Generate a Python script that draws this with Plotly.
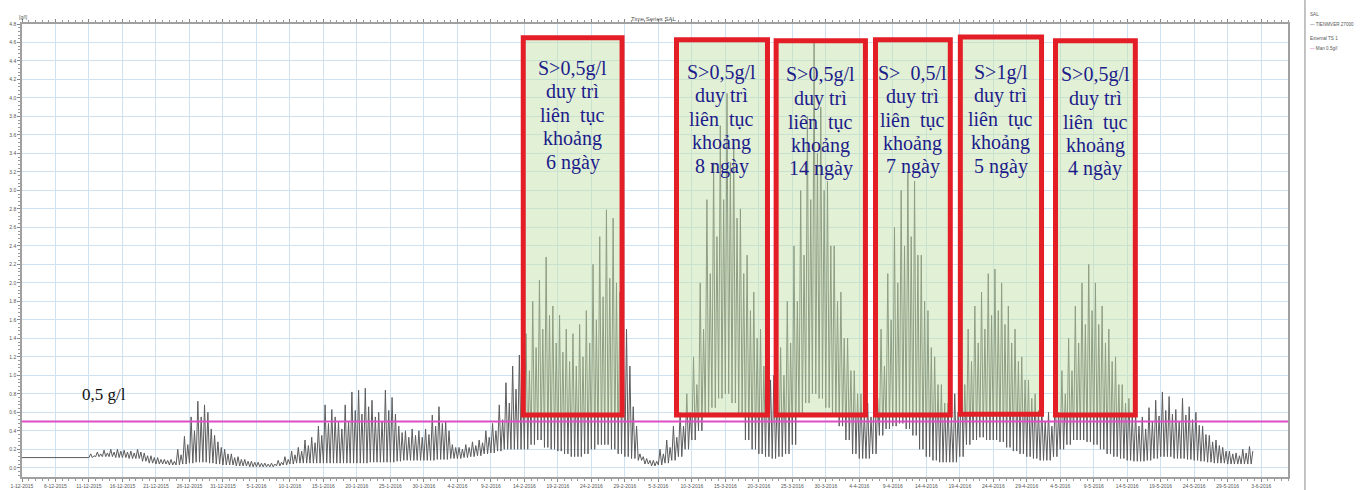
import pandas as pd
import plotly.graph_objects as go

# ---------------- data ----------------
start_date = "2015-12-01"
# main (higher) high-tide salinity per day (g/l), from 1-12-2015
daily_high = [
    0.11, 0.11, 0.11, 0.11, 0.11, 0.11, 0.11, 0.11, 0.11, 0.11,
    0.15, 0.17, 0.19, 0.20, 0.20, 0.19, 0.18, 0.20,
    0.16, 0.13, 0.11, 0.09, 0.09,
    0.20, 0.34, 0.55, 0.72, 0.68, 0.42, 0.28, 0.20,
    0.15, 0.12, 0.09, 0.07, 0.06, 0.05, 0.05,
    0.08, 0.12, 0.18, 0.22, 0.30, 0.33,
    0.45, 0.68, 0.63, 0.50, 0.68, 0.82, 0.84, 0.86, 0.73, 0.60, 0.84, 0.76,
    0.45, 0.40, 0.42, 0.40, 0.42, 0.57, 0.66, 0.50,
    0.25, 0.22, 0.25, 0.28, 0.30, 0.40, 0.48, 0.68, 0.92, 1.10, 1.22,
    1.45, 1.80, 2.03, 2.28, 1.75, 1.65, 1.50, 1.45, 1.55, 1.70, 2.20, 2.50, 2.79, 2.70, 1.90, 1.50, 0.66,
    0.15, 0.10, 0.08, 0.20, 0.30, 0.45, 0.60,
    0.80, 1.20, 2.00, 2.90, 3.30, 3.70, 4.05, 3.50, 2.80, 2.30, 1.90, 1.50, 1.20,
    1.00, 1.30, 1.80, 2.40, 3.00, 3.80, 4.60, 3.90, 3.10, 2.40, 1.90, 1.40, 1.05, 0.80,
    0.70, 1.00, 1.50, 2.10, 2.60, 3.00, 3.20, 3.10, 2.30, 1.70, 1.20, 0.90, 0.70,
    0.80, 1.20, 1.50, 1.75, 1.90, 2.10, 2.15, 2.00, 1.75, 1.50, 1.20, 0.95, 0.80, 0.65,
    0.60, 0.80, 1.05, 1.40, 1.75, 2.00, 2.20, 2.00, 1.75, 1.50, 1.20, 0.90, 0.75,
    0.60, 0.55, 0.65, 0.73, 0.82, 0.77, 0.63, 0.75, 0.66, 0.60, 0.45, 0.35, 0.30, 0.22, 0.18, 0.16, 0.20, 0.23,
]
# secondary (lower) high-tide salinity per day (g/l)
daily_high2 = [
    0.11, 0.11, 0.11, 0.11, 0.11, 0.11, 0.11, 0.11, 0.11, 0.11,
    0.13, 0.15, 0.16, 0.17, 0.18, 0.17, 0.16, 0.17,
    0.13, 0.11, 0.09, 0.08, 0.07,
    0.14, 0.25, 0.40, 0.55, 0.60, 0.35, 0.22, 0.15,
    0.11, 0.09, 0.07, 0.06, 0.05, 0.04, 0.04,
    0.06, 0.09, 0.14, 0.18, 0.24, 0.27,
    0.35, 0.48, 0.55, 0.42, 0.50, 0.62, 0.58, 0.66, 0.55, 0.50, 0.62, 0.58,
    0.38, 0.33, 0.35, 0.33, 0.36, 0.45, 0.48, 0.40,
    0.22, 0.20, 0.22, 0.24, 0.27, 0.33, 0.40, 0.52, 0.70, 0.85, 0.95,
    1.05, 1.30, 1.50, 1.65, 1.35, 1.25, 1.15, 1.10, 1.20, 1.35, 1.60, 1.85, 2.05, 2.00, 1.40, 1.10, 0.45,
    0.12, 0.08, 0.07, 0.15, 0.22, 0.33, 0.45,
    0.60, 0.90, 1.50, 2.10, 2.50, 2.90, 3.30, 2.70, 2.10, 1.70, 1.40, 1.10, 0.95,
    0.80, 1.00, 1.35, 1.80, 2.30, 2.90, 3.40, 3.00, 2.40, 1.80, 1.40, 1.05, 0.80, 0.60,
    0.55, 0.75, 1.10, 1.60, 2.00, 2.40, 2.50, 2.30, 1.80, 1.30, 0.90, 0.70, 0.55,
    0.60, 0.90, 1.15, 1.35, 1.50, 1.65, 1.70, 1.55, 1.35, 1.15, 0.95, 0.75, 0.62, 0.50,
    0.45, 0.60, 0.80, 1.05, 1.35, 1.55, 1.70, 1.55, 1.35, 1.15, 0.90, 0.70, 0.58,
    0.45, 0.42, 0.50, 0.56, 0.62, 0.58, 0.50, 0.57, 0.52, 0.46, 0.36, 0.28, 0.24, 0.18, 0.15, 0.13, 0.16, 0.18,
]
# low-tide salinity per day (g/l)
daily_low = [
    0.11, 0.11, 0.11, 0.11, 0.11, 0.11, 0.11, 0.11, 0.11, 0.11,
    0.11, 0.12, 0.12, 0.12, 0.11, 0.11, 0.10, 0.10,
    0.07, 0.05, 0.04, 0.04, 0.03,
    0.03, 0.04, 0.05, 0.06, 0.06, 0.05, 0.04, 0.03,
    0.03, 0.02, 0.02, 0.01, 0.01, 0.01, 0.01,
    0.02, 0.03, 0.04, 0.05, 0.05, 0.05,
    0.05, 0.05, 0.05, 0.05, 0.05, 0.05, 0.05, 0.05, 0.06, 0.06, 0.06, 0.06,
    0.07, 0.08, 0.08, 0.08, 0.08, 0.08, 0.09, 0.09,
    0.10, 0.10, 0.11, 0.12, 0.13, 0.15, 0.16, 0.18, 0.20, 0.20, 0.20,
    0.20, 0.25, 0.30, 0.22, 0.20, 0.18, 0.15, 0.12, 0.12, 0.15, 0.20, 0.25, 0.25, 0.20, 0.15, 0.12, 0.10,
    0.08, 0.04, 0.02, 0.03, 0.05, 0.08, 0.12,
    0.20, 0.30, 0.40, 0.55, 0.65, 0.75, 0.80, 0.70, 0.55, 0.30, 0.20, 0.15, 0.12,
    0.10, 0.12, 0.15, 0.25, 0.55, 0.70, 0.80, 0.75, 0.65, 0.55, 0.45, 0.30, 0.15, 0.10,
    0.10, 0.15, 0.35, 0.42, 0.45, 0.48, 0.42, 0.35, 0.20, 0.12, 0.08, 0.06, 0.06,
    0.06, 0.12, 0.25, 0.30, 0.33, 0.30, 0.30, 0.28, 0.22, 0.18, 0.15, 0.12, 0.10, 0.08,
    0.08, 0.12, 0.20, 0.25, 0.30, 0.30, 0.28, 0.25, 0.20, 0.15, 0.12, 0.10, 0.08,
    0.07, 0.07, 0.08, 0.10, 0.12, 0.12, 0.10, 0.10, 0.09, 0.08, 0.07, 0.06, 0.05, 0.05, 0.04, 0.04, 0.04, 0.04,
]
threshold = 0.5

box_start = ["2016-02-13 20:00", "2016-03-07 17:00", "2016-03-22 14:00",
             "2016-04-06 10:00", "2016-04-19 02:00", "2016-05-03 07:00"]
box_end = ["2016-02-28 14:00", "2016-03-21 07:00", "2016-04-04 22:00",
           "2016-04-17 14:00", "2016-05-01 05:00", "2016-05-15 05:00"]
box_top = [4.65, 4.63, 4.62, 4.63, 4.66, 4.62]
box_bottom = [0.57, 0.57, 0.57, 0.57, 0.58, 0.57]
box_lines = [
    ["S>0,5g/l", "duy trì", "liên&nbsp; tục", "khoảng", "6 ngày"],
    ["S>0,5g/l", "duy trì", "liên&nbsp; tục", "khoảng", "8 ngày"],
    ["S>0,5g/l", "duy trì", "liên&nbsp; tục", "khoảng", "14 ngày"],
    ["S>&nbsp; 0,5/l", "duy trì", "liên&nbsp; tục", "khoảng", "7 ngày"],
    ["S>1g/l", "duy trì", "liên&nbsp; tục", "khoảng", "5 ngày"],
    ["S>0,5g/l", "duy trì", "liên&nbsp; tục", "khoảng", "4 ngày"],
]
x_range = ["2015-12-01", "2016-06-07"]
y_range = [-0.1, 4.8]

# ---------------- build series ----------------
t0 = pd.Timestamp(start_date)
xs, ys = [], []
for d, (lo, hi, hi2) in enumerate(zip(daily_low, daily_high, daily_high2)):
    xs += [t0 + pd.Timedelta(days=d), t0 + pd.Timedelta(days=d, hours=6),
           t0 + pd.Timedelta(days=d, hours=12), t0 + pd.Timedelta(days=d, hours=18)]
    ys += [lo, hi, lo, hi2]

fig = go.Figure()
fig.add_trace(go.Scatter(x=xs, y=ys, mode="lines",
                         line=dict(color="#5c5c5c", width=1),
                         name="TIENMVER 27000", showlegend=False))
fig.add_trace(go.Scatter(x=x_range, y=[threshold, threshold], mode="lines",
                         line=dict(color="#dc4fc4", width=2),
                         name="Man 0.5g/l", showlegend=False))

# text layout (first line position and line step, in axis units)
first_line_y = [4.32, 4.28, 4.25, 4.27, 4.28, 4.25]
line_step = 0.254
for i in range(len(box_start)):
    fig.add_shape(type="rect", xref="x", yref="y",
                  x0=box_start[i], x1=box_end[i], y0=box_bottom[i], y1=box_top[i],
                  fillcolor="rgba(196,224,171,0.49)", line=dict(width=0), layer="above")
    fig.add_shape(type="rect", xref="x", yref="y",
                  x0=box_start[i], x1=box_end[i], y0=box_bottom[i], y1=box_top[i],
                  line=dict(color="#e41e26", width=5), layer="above")
    mid = pd.Timestamp(box_start[i]) + (pd.Timestamp(box_end[i]) - pd.Timestamp(box_start[i])) / 2
    for k, line in enumerate(box_lines[i]):
        fig.add_annotation(x=mid, y=first_line_y[i] - k * line_step, xref="x", yref="y",
                           text=line, showarrow=False, align="center", yanchor="middle",
                           font=dict(family="Liberation Serif", size=20, color="#1c1c8a"))

fig.add_annotation(x=pd.Timestamp("2015-12-13 07:00"), y=0.79, xref="x", yref="y",
                   text="0,5 g/l", showarrow=False,
                   font=dict(family="Liberation Serif", size=17, color="#111111"))

fig.add_annotation(x=0.4986, y=1.011, xref="paper", yref="paper", text="Time Series SAL",
                   showarrow=False, font=dict(family="Liberation Sans", size=6, color="#555555"),
                   yanchor="middle")
fig.add_annotation(x=-0.004, y=1.016, xref="paper", yref="paper", text="[g/l]",
                   showarrow=False, font=dict(family="Liberation Sans", size=5, color="#555555"),
                   yanchor="middle")
legend_items = [("SAL", 1.020),
                ("<span style='color:#666666'>—</span> TIENMVER 27000", 1.0),
                ("External TS 1", 0.967),
                ("<span style='color:#dc4fc4'>—</span> Man 0.5g/l", 0.947)]
for txt, yy in legend_items:
    fig.add_annotation(x=1.0158, y=yy, xref="paper", yref="paper", text=txt,
                       showarrow=False, xanchor="left", yanchor="middle",
                       font=dict(family="Liberation Sans", size=4.6, color="#555555"))
fig.add_shape(type="line", xref="paper", yref="paper", x0=1.0134, x1=1.0134,
              y0=-0.03, y1=1.06, line=dict(color="#b0b0b0", width=1.5))

fig.update_xaxes(type="date", range=x_range, tick0=start_date, dtick=5 * 86400000,
                 tickformat="%-d-%-m-%Y", tickfont=dict(family="Liberation Sans", size=5, color="#555555"),
                 showgrid=True, gridcolor="#cfe2f2", gridwidth=1, automargin=False,
                 showline=True, linecolor="#a0a0a0", linewidth=1.5, mirror="ticks",
                 ticks="outside", ticklen=3, tickcolor="#888888",
                 minor=dict(dtick=86400000, ticks="outside", ticklen=2, tickcolor="#999999", showgrid=False),
                 zeroline=False)
fig.update_yaxes(range=y_range, tick0=0, dtick=0.2, tickformat=".1f",
                 tickfont=dict(family="Liberation Sans", size=5, color="#555555"),
                 showgrid=True, gridcolor="#cfe2f2", gridwidth=1, automargin=False,
                 showline=True, linecolor="#a0a0a0", linewidth=1.5, mirror=True,
                 ticks="outside", ticklen=3, tickcolor="#888888",
                 minor=dict(dtick=0.04, ticks="outside", ticklen=2, tickcolor="#999999", showgrid=False),
                 zeroline=False)

fig.update_layout(width=1361, height=490, margin=dict(l=22, r=73, t=24, b=13, autoexpand=False),
                  paper_bgcolor="white", plot_bgcolor="white", showlegend=False)

fig.write_html("out.html", config={"displayModeBar": False},
               post_script="document.body.style.margin='0';document.body.style.overflow='hidden';")
